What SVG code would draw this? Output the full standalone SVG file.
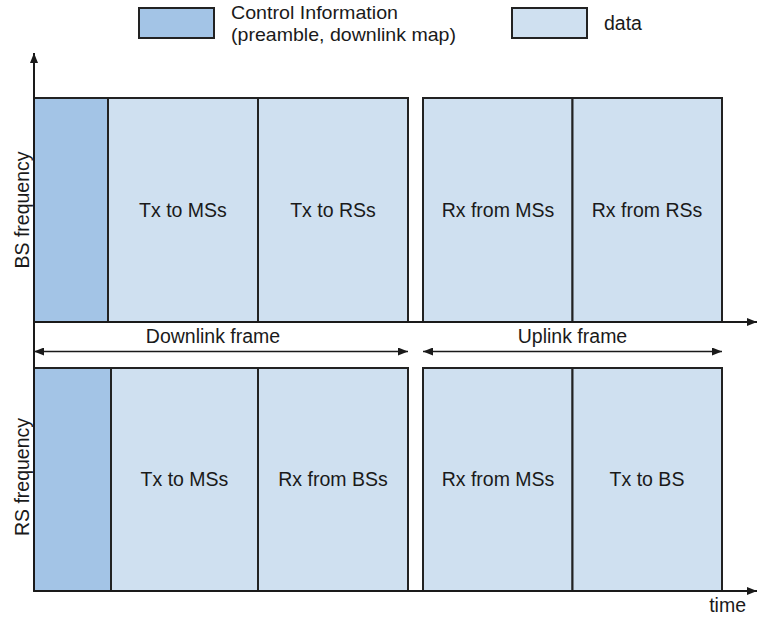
<svg xmlns="http://www.w3.org/2000/svg" width="758" height="617" viewBox="0 0 758 617">
  <defs>
    <marker id="tip" viewBox="0 0 10 8" refX="10" refY="4" markerWidth="10" markerHeight="8" markerUnits="userSpaceOnUse" orient="auto-start-reverse">
      <path d="M0,0 L10,4 L0,8 Z" fill="#1a1a1a"/>
    </marker>
  </defs>
  <style>
    .ctrl { fill: #a3c4e6; stroke: #222; stroke-width: 2; }
    .data { fill: #cfe0f0; stroke: #222; stroke-width: 2; }
    .lbl { font-family: "Liberation Sans", Arial, sans-serif; font-size: 19.5px; fill: #1a1a1a; }
    .leg { font-size: 18.5px; }
    .mid { text-anchor: middle; }
    .axis { stroke: #1a1a1a; stroke-width: 2; fill: none; }
    .span { stroke: #1a1a1a; stroke-width: 1.6; fill: none; }
  </style>

  <rect width="758" height="617" fill="#ffffff"/>

  <!-- legend -->
  <g id="legend-control">
    <rect class="ctrl" x="139" y="8" width="75" height="30"/>
    <text class="lbl leg" x="231" y="18.5" textLength="167" lengthAdjust="spacingAndGlyphs">Control Information</text>
    <text class="lbl leg" x="231" y="40.5" textLength="225" lengthAdjust="spacingAndGlyphs">(preamble, downlink map)</text>
  </g>
  <g id="legend-data">
    <rect class="data" x="512" y="8" width="75" height="30"/>
    <text class="lbl" x="604" y="29.5">data</text>
  </g>

  <!-- BS frequency row -->
  <g id="bs-control"><rect class="ctrl" x="34" y="98" width="74" height="224"/></g>
  <g id="bs-tx-ms"><rect class="data" x="108" y="98" width="150" height="224"/><text class="lbl mid" x="183" y="216.5">Tx to MSs</text></g>
  <g id="bs-tx-rs"><rect class="data" x="258" y="98" width="150" height="224"/><text class="lbl mid" x="333" y="216.5">Tx to RSs</text></g>
  <g id="bs-rx-ms"><rect class="data" x="423" y="98" width="149.5" height="224"/><text class="lbl mid" x="498" y="216.5">Rx from MSs</text></g>
  <g id="bs-rx-rs"><rect class="data" x="572.5" y="98" width="149.5" height="224"/><text class="lbl mid" x="647" y="216.5">Rx from RSs</text></g>

  <!-- RS frequency row -->
  <g id="rs-control"><rect class="ctrl" x="34" y="368" width="77" height="223"/></g>
  <g id="rs-tx-ms"><rect class="data" x="111" y="368" width="147" height="223"/><text class="lbl mid" x="184.5" y="486">Tx to MSs</text></g>
  <g id="rs-rx-bs"><rect class="data" x="258" y="368" width="150" height="223"/><text class="lbl mid" x="333" y="486">Rx from BSs</text></g>
  <g id="rs-rx-ms"><rect class="data" x="423" y="368" width="149.5" height="223"/><text class="lbl mid" x="498" y="486">Rx from MSs</text></g>
  <g id="rs-tx-bs"><rect class="data" x="572.5" y="368" width="149.5" height="223"/><text class="lbl mid" x="647" y="486">Tx to BS</text></g>

  <!-- axes and frame spans -->
  <g id="connectors">
    <line class="axis" x1="34" y1="591" x2="34" y2="53" marker-end="url(#tip)"/>
    <line class="axis" x1="34" y1="322" x2="757" y2="322" marker-end="url(#tip)"/>
    <line class="axis" x1="34" y1="591" x2="757" y2="591" marker-end="url(#tip)"/>
    <line class="span" x1="34" y1="351.5" x2="408" y2="351.5" marker-start="url(#tip)" marker-end="url(#tip)"/>
    <line class="span" x1="423" y1="351.5" x2="722" y2="351.5" marker-start="url(#tip)" marker-end="url(#tip)"/>
  </g>

  <!-- axis and span labels -->
  <text class="lbl" x="29" y="210" text-anchor="middle" transform="rotate(-90 29 210)">BS frequency</text>
  <text class="lbl" x="29" y="477" text-anchor="middle" transform="rotate(-90 29 477)">RS frequency</text>
  <text class="lbl mid" x="213" y="343">Downlink frame</text>
  <text class="lbl mid" x="572.5" y="343">Uplink frame</text>
  <text class="lbl" x="746" y="612" text-anchor="end">time</text>
</svg>
